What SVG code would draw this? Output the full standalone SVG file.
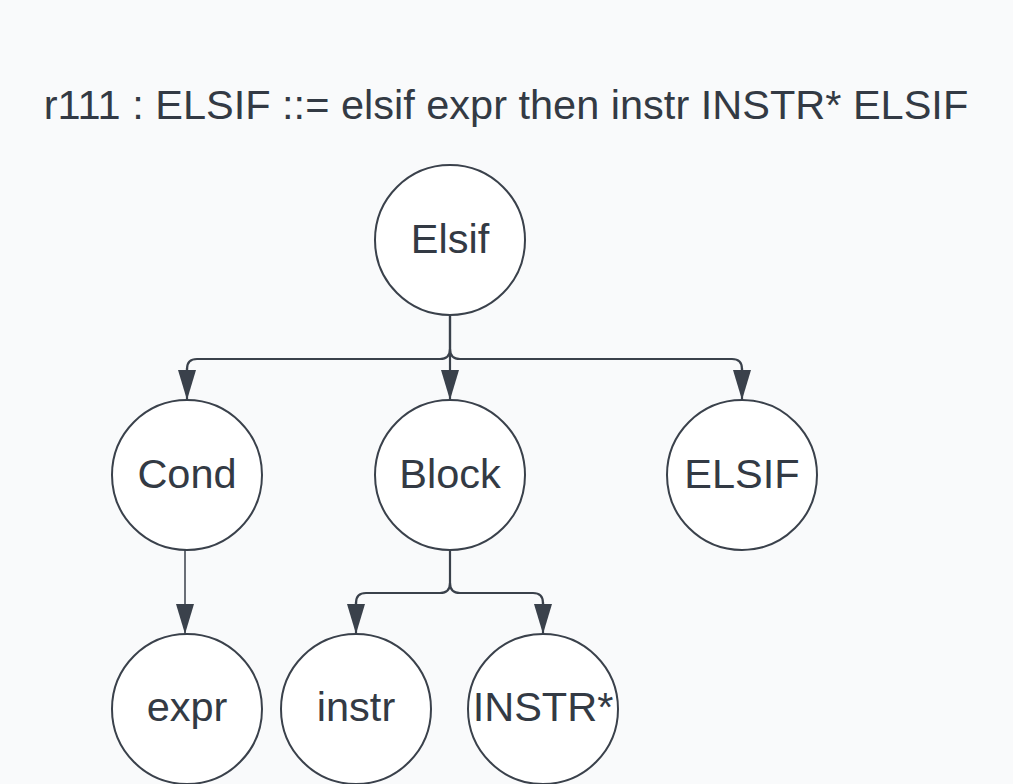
<svg xmlns="http://www.w3.org/2000/svg" width="1013" height="784" viewBox="0 0 1013 784">
<style>
.bg{fill:#f9fafb}
.node circle{fill:#ffffff;stroke:#3a414b;stroke-width:2}
.node text,.title{font-family:"Liberation Sans",Arial,sans-serif;fill:#333a44;text-anchor:middle}
.node text{font-size:41.5px}
.title{font-size:41.5px}
.conn path{fill:none;stroke:#3a414b;stroke-width:2.2}
.conn path.thin{stroke-width:1.5}
</style>
<defs>
<marker id="arr" markerWidth="30" markerHeight="18" refX="30" refY="9" orient="auto" markerUnits="userSpaceOnUse" viewBox="0 0 30 18">
<path d="M0,0 L30,9 L0,18 Z" fill="#3a414b"/>
</marker>
</defs>
<rect class="bg" x="0" y="0" width="1013" height="784"/>
<text class="title" x="506" y="119">r111 : ELSIF ::= elsif expr then instr INSTR* ELSIF</text>
<g class="conn">
<path d="M450,316 V349 Q450,359 440,359 H197 Q187,359 187,369 V370" />
<path d="M187,368 V400" marker-end="url(#arr)"/>
<path d="M450,316 V400" marker-end="url(#arr)"/>
<path d="M450,349 Q450,359 460,359 H732 Q742,359 742,369 V370"/>
<path d="M742,368 V400" marker-end="url(#arr)"/>
<path class="thin" d="M185,550 V634" marker-end="url(#arr)"/>
<path d="M450,550 V583 Q450,593 440,593 H366 Q356,593 356,603 V604"/>
<path d="M356,602 V634" marker-end="url(#arr)"/>
<path d="M450,583 Q450,593 460,593 H533 Q543,593 543,603 V604"/>
<path d="M543,602 V634" marker-end="url(#arr)"/>
</g>
<g id="n-elsif" class="node"><circle cx="450" cy="240" r="75"/><text x="450" y="253">Elsif</text></g>
<g id="n-cond" class="node"><circle cx="187" cy="475" r="75"/><text x="187" y="488">Cond</text></g>
<g id="n-block" class="node"><circle cx="450" cy="475" r="75"/><text x="450" y="488">Block</text></g>
<g id="n-elsif2" class="node"><circle cx="742" cy="475" r="75"/><text x="742" y="488">ELSIF</text></g>
<g id="n-expr" class="node"><circle cx="187" cy="709" r="75"/><text x="187" y="721">expr</text></g>
<g id="n-instr" class="node"><circle cx="356" cy="709" r="75"/><text x="356" y="721">instr</text></g>
<g id="n-instrstar" class="node"><circle cx="543" cy="709" r="75"/><text x="543" y="721">INSTR*</text></g>
</svg>
